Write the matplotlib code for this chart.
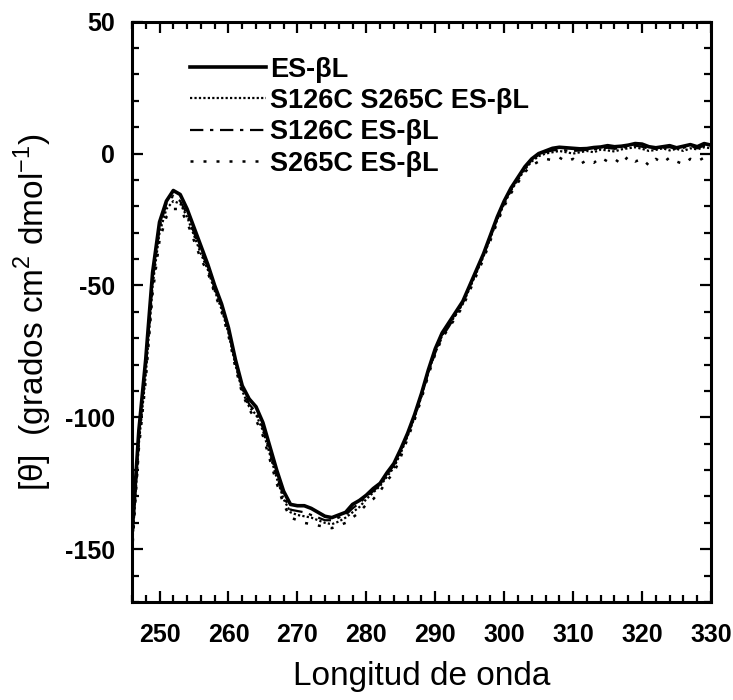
#!/usr/bin/env python
"""
Circular dichroism spectra (near UV) of ES-betaL and its cysteine mutants.
"""

import matplotlib
matplotlib.use("Agg")
import matplotlib.pyplot as plt
from matplotlib.ticker import MultipleLocator

# --- Data ---
wavelength = list(range(246, 331))

es_bl = [
    -145, -105, -78, -45, -26, -18, -14, -15.5, -21, -28,
    -35, -42, -50, -57, -66, -78, -88, -93, -96, -102,
    -111, -120, -128, -133, -133.5, -133.5, -134.5, -136, -137.5, -138,
    -137, -136, -133, -131.5, -129.5, -127, -125, -121, -117.5, -112,
    -106, -99, -91, -82, -74, -68, -64, -60, -56, -50,
    -44, -38, -31, -24, -18, -13, -9, -5, -2, 0,
    1, 2, 2.4, 2.2, 2, 1.8, 1.9, 2.3, 2.5, 3,
    2.6, 2.8, 3.2, 3.8, 3.6, 2.6, 2.2, 2.6, 3, 2.2,
    2.8, 3.4, 2.6, 3.8, 3.2,
]

s126c_s265c = [
    -150, -110, -84, -50, -30, -21, -18, -19, -24, -31,
    -38, -44, -52, -59, -68, -80, -90, -96, -99, -105,
    -114, -123, -131, -136, -137, -137.5, -138, -139, -140, -140.5,
    -139.5, -138, -136, -134, -131, -128.5, -126, -122.5, -119, -113.5,
    -107, -100, -92, -83, -75, -69, -65, -61, -57, -51,
    -45, -39, -32, -25, -19, -14, -10, -6, -3, -1,
    0, 0.5, 1, 0.5, 0, 0.5, 1, 0.5, 1.5, 1.2,
    0.8, 1.6, 2, 2.4, 1.8, 1, 1.4, 2, 1.2, 1.8,
    1, 2, 1.6, 2.4, 2,
]

s126c = [
    -148, -108, -82, -48, -28, -19, -16, -18, -23, -30,
    -37, -43, -51, -58, -67, -79, -89, -95, -98, -104,
    -113, -122, -130, -135, -135.5, -136, -137, -138, -139, -139,
    -138, -137, -134.5, -132.5, -130, -128, -125.5, -122, -118, -113,
    -106.5, -99.5, -91.5, -83, -75.5, -69.5, -65.5, -61, -56.5, -50.5,
    -44.5, -38.5, -31.5, -24.5, -18.5, -13.5, -9.5, -5.5, -2.5, -0.5,
    0.5, 1.2, 1.5, 1.2, 1, 1.2, 1.4, 1.6, 2, 2.2,
    1.8, 2.2, 2.6, 3, 2.6, 1.8, 1.8, 2.2, 2.4, 1.8,
    2.2, 2.8, 2, 3, 2.6,
]

s265c = [
    -152, -112, -86, -53, -33, -24, -21, -21, -26, -33,
    -40, -45, -53, -60, -69, -81, -91, -97, -101, -107,
    -116, -125, -133, -138, -139, -140, -140.5, -141, -141.5, -142,
    -141, -140, -138, -136, -133, -131, -128, -124, -121, -115,
    -108, -101, -93, -84, -76, -70, -66, -62, -58, -52,
    -46, -40, -33, -26, -20, -15, -11, -7, -4.5, -3,
    -2, -2.5, -1.5, -3, -2, -4, -2.5, -3.5, -1.5, -3,
    -2, -4, -1, -3, -2, -4.5, -2, -3.5, -1.5, -3,
    -4, -2, -3, -1.5, -2.5,
]

labels = ["ES-βL", "S126C S265C ES-βL", "S126C ES-βL", "S265C ES-βL"]


def main():
    plt.rcParams["font.family"] = ["Liberation Sans", "DejaVu Sans"]
    plt.rcParams["axes.unicode_minus"] = False

    fig = plt.figure(figsize=(7.33, 7.0), dpi=100)
    ax = fig.add_axes([0.180, 0.140, 0.790, 0.829])

    ax.plot(wavelength, es_bl, color="black", lw=2.6, ls="-", label=labels[0])
    ax.plot(wavelength, s126c_s265c, color="black", lw=1.6, ls=(0, (1, 1)), label=labels[1])
    ax.plot(wavelength, s126c, color="black", lw=1.6, ls=(0, (6, 3, 1.5, 3)), label=labels[2])
    ax.plot(wavelength, s265c, color="black", lw=1.8, ls=(0, (1.2, 4)), label=labels[3])

    ax.set_xlim(246, 330)
    ax.set_ylim(-170, 50)

    # --- Axes styling ---
    ax.xaxis.set_major_locator(MultipleLocator(10))
    ax.xaxis.set_minor_locator(MultipleLocator(2))
    ax.yaxis.set_major_locator(MultipleLocator(50))
    ax.yaxis.set_minor_locator(MultipleLocator(10))
    ax.tick_params(which="both", direction="in", top=True, right=True, width=1.6)
    ax.tick_params(which="major", length=8, labelsize=18)
    ax.tick_params(which="minor", length=5)
    ax.tick_params(axis="x", which="major", pad=15)
    ax.tick_params(axis="y", which="major", pad=12)
    for lab in ax.get_xticklabels() + ax.get_yticklabels():
        lab.set_fontweight("bold")
    for s in ax.spines.values():
        s.set_linewidth(2.2)

    ax.set_xlabel("Longitud de onda", fontsize=24, labelpad=10)
    ax.set_ylabel(r"[$\mathregular{\theta}$]  (grados cm$^\mathregular{2}$ dmol$^\mathregular{-1}$)",
                  fontsize=24, labelpad=8)

    ax.legend(loc="upper left", bbox_to_anchor=(0.1, 0.94), frameon=False,
              prop={"size": 19.5, "weight": "bold"}, handlelength=2.8, handletextpad=0.15,
              labelspacing=0.2, borderpad=0, borderaxespad=0)

    fig.savefig("out.png", dpi=100)
    plt.close(fig)


if __name__ == "__main__":
    main()
